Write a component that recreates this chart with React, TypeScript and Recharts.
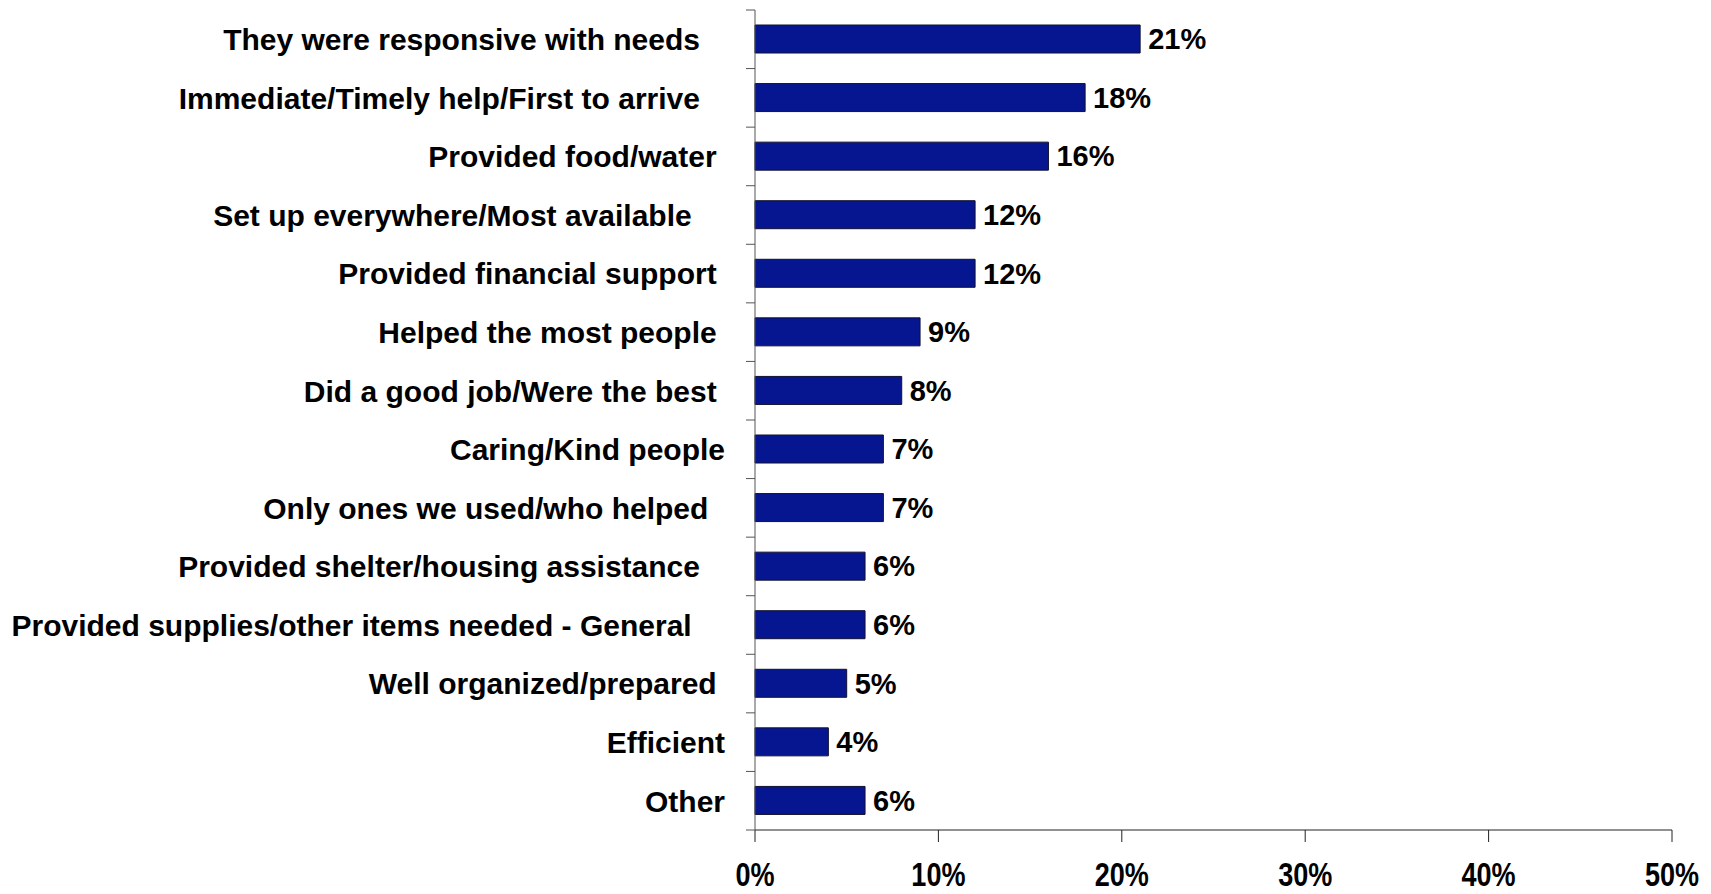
import React from 'react';
import { BarChart, Bar, XAxis, YAxis, LabelList } from 'recharts';

// reasons, top to bottom (trailing spaces kept as in the source labels)
const reasons = [
  'They were responsive with needs   ',
  'Immediate/Timely help/First to arrive   ',
  'Provided food/water ',
  'Set up everywhere/Most available    ',
  'Provided financial support ',
  'Helped the most people ',
  'Did a good job/Were the best ',
  'Caring/Kind people',
  'Only ones we used/who helped  ',
  'Provided shelter/housing assistance   ',
  'Provided supplies/other items needed - General    ',
  'Well organized/prepared ',
  'Efficient',
  'Other',
];
const percents = [21, 18, 16, 12, 12, 9, 8, 7, 7, 6, 6, 5, 4, 6];
const xTicks = [0, 10, 20, 30, 40, 50];

const data = reasons.map((name, i) => ({ name, value: percents[i] }));

const W = 1711;
const H = 894;
const TOP = 10;
const X_AXIS_H = 64;
const LABEL_GAP = 30;
const BAND = (H - TOP - X_AXIS_H) / reasons.length;

// category label plus the little tick between categories, like the Excel axis
const ReasonTick = (props: any) => {
  const { x, y, payload, index } = props;
  const ax = x + LABEL_GAP;
  return (
    <g>
      <line x1={ax - 9} x2={ax} y1={y - BAND / 2} y2={y - BAND / 2} stroke="#555" />
      {index === reasons.length - 1 && (
        <line x1={ax - 9} x2={ax} y1={y + BAND / 2} y2={y + BAND / 2} stroke="#555" />
      )}
      <text
        x={x}
        y={y}
        dy="0.36em"
        textAnchor="end"
        fill="#000"
        fontSize={30}
        fontWeight="bold"
        fontFamily="'Liberation Sans', Arial, sans-serif"
        style={{ whiteSpace: 'pre' }}
      >
        {payload.value}
      </text>
    </g>
  );
};

// the percent ticks look squeezed sideways in the original
const PercentTick = (props: any) => {
  const { x, y, payload } = props;
  return (
    <g transform={`translate(${x},${y}) scale(0.82,1)`}>
      <text
        x={0}
        y={0}
        dy="0.71em"
        textAnchor="middle"
        fill="#000"
        fontSize={33}
        fontWeight="bold"
        fontFamily="'Liberation Sans', Arial, sans-serif"
      >
        {`${payload.value}%`}
      </text>
    </g>
  );
};

export default function App() {
  return (
    <div style={{ position: 'absolute', left: 0, top: 0, background: '#fff' }}>
      <BarChart
        width={W}
        height={H}
        data={data}
        layout="vertical"
        margin={{ top: TOP, right: 39, left: 0, bottom: 0 }}
        barSize={28}
      >
        <XAxis
          type="number"
          domain={[0, 50]}
          ticks={xTicks}
          height={X_AXIS_H}
          tickSize={12}
          tickMargin={21}
          stroke="#222"
          tick={<PercentTick />}
        />
        <YAxis
          type="category"
          dataKey="name"
          width={755}
          stroke="#555"
          tickLine={false}
          tickSize={0}
          tickMargin={LABEL_GAP}
          interval={0}
          tick={<ReasonTick />}
        />
        <Bar
          dataKey="value"
          fill="#061691"
          stroke="#101030"
          strokeWidth={1}
          isAnimationActive={false}
        >
          <LabelList
            dataKey="value"
            position="right"
            offset={8}
            formatter={(v: any) => `${v}%`}
            fill="#000"
            fontSize={29}
            fontWeight="bold"
            fontFamily="'Liberation Sans', Arial, sans-serif"
          />
        </Bar>
      </BarChart>
    </div>
  );
}
